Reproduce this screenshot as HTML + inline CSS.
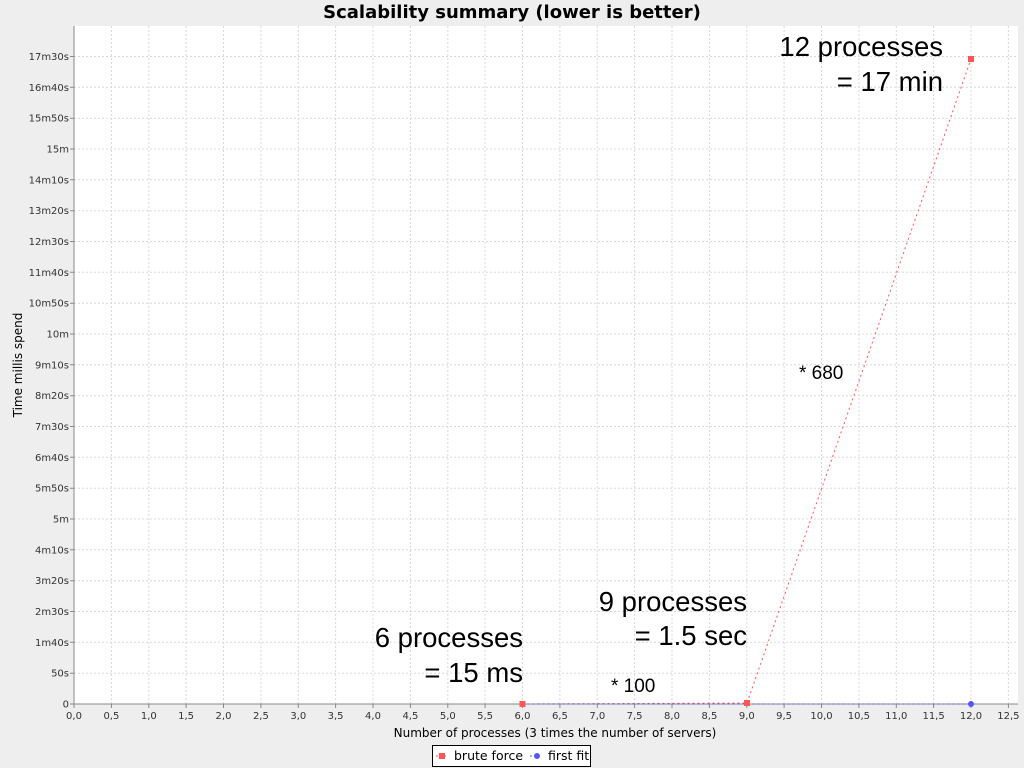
<!DOCTYPE html>
<html><head><meta charset="utf-8"><style>
body{margin:0;background:#eeeeee;}
svg{display:block}
</style></head><body>
<svg width="1024" height="768" xmlns="http://www.w3.org/2000/svg">
<rect width="1024" height="768" fill="#eeeeee"/>
<text x="512" y="18" text-anchor="middle" font-family="DejaVu Sans, sans-serif" font-weight="bold" font-size="18">Scalability summary (lower is better)</text>
<rect x="74" y="26" width="944" height="678" fill="#fff"/>
<g stroke="#d8d8d8" stroke-dasharray="2,2" stroke-width="1" fill="none">
<path d="M74 673.2H1018M74 642.3H1018M74 611.5H1018M74 580.7H1018M74 549.8H1018M74 519H1018M74 488.2H1018M74 457.3H1018M74 426.5H1018M74 395.7H1018M74 364.8H1018M74 334H1018M74 303.2H1018M74 272.3H1018M74 241.5H1018M74 210.7H1018M74 179.8H1018M74 149H1018M74 118.2H1018M74 87.3H1018M74 56.5H1018"/>
<path d="M111.4 26V704M148.8 26V704M186.1 26V704M223.5 26V704M260.9 26V704M298.3 26V704M335.6 26V704M373 26V704M410.4 26V704M447.8 26V704M485.1 26V704M522.5 26V704M559.9 26V704M597.3 26V704M634.6 26V704M672 26V704M709.4 26V704M746.8 26V704M784.1 26V704M821.5 26V704M858.9 26V704M896.3 26V704M933.6 26V704M971 26V704M1008.4 26V704"/>
</g>
<g stroke="#888" fill="none">
<path d="M74 704v4M111.4 704v4M148.8 704v4M186.1 704v4M223.5 704v4M260.9 704v4M298.3 704v4M335.6 704v4M373 704v4M410.4 704v4M447.8 704v4M485.1 704v4M522.5 704v4M559.9 704v4M597.3 704v4M634.6 704v4M672 704v4M709.4 704v4M746.8 704v4M784.1 704v4M821.5 704v4M858.9 704v4M896.3 704v4M933.6 704v4M971 704v4M1008.4 704v4"/>
<path d="M70 704h4M70 673.2h4M70 642.3h4M70 611.5h4M70 580.7h4M70 549.8h4M70 519h4M70 488.2h4M70 457.3h4M70 426.5h4M70 395.7h4M70 364.8h4M70 334h4M70 303.2h4M70 272.3h4M70 241.5h4M70 210.7h4M70 179.8h4M70 149h4M70 118.2h4M70 87.3h4M70 56.5h4"/>
<line x1="74" y1="26" x2="74" y2="704"/>
<line x1="74" y1="704" x2="1018" y2="704"/>
</g>
<g font-family="DejaVu Sans, sans-serif" font-size="10" text-anchor="middle" fill="#333">
<text x="74" y="719">0,0</text><text x="111.4" y="719">0,5</text><text x="148.8" y="719">1,0</text><text x="186.1" y="719">1,5</text><text x="223.5" y="719">2,0</text><text x="260.9" y="719">2,5</text><text x="298.3" y="719">3,0</text><text x="335.6" y="719">3,5</text><text x="373" y="719">4,0</text><text x="410.4" y="719">4,5</text><text x="447.8" y="719">5,0</text><text x="485.1" y="719">5,5</text><text x="522.5" y="719">6,0</text><text x="559.9" y="719">6,5</text><text x="597.3" y="719">7,0</text><text x="634.6" y="719">7,5</text><text x="672" y="719">8,0</text><text x="709.4" y="719">8,5</text><text x="746.8" y="719">9,0</text><text x="784.1" y="719">9,5</text><text x="821.5" y="719">10,0</text><text x="858.9" y="719">10,5</text><text x="896.3" y="719">11,0</text><text x="933.6" y="719">11,5</text><text x="971" y="719">12,0</text><text x="1008.4" y="719">12,5</text>
</g>
<g font-family="DejaVu Sans, sans-serif" font-size="10" text-anchor="end" fill="#333">
<text x="69" y="707.5">0</text><text x="69" y="676.7">50s</text><text x="69" y="645.8">1m40s</text><text x="69" y="615">2m30s</text><text x="69" y="584.2">3m20s</text><text x="69" y="553.3">4m10s</text><text x="69" y="522.5">5m</text><text x="69" y="491.7">5m50s</text><text x="69" y="460.8">6m40s</text><text x="69" y="430">7m30s</text><text x="69" y="399.2">8m20s</text><text x="69" y="368.3">9m10s</text><text x="69" y="337.5">10m</text><text x="69" y="306.7">10m50s</text><text x="69" y="275.8">11m40s</text><text x="69" y="245">12m30s</text><text x="69" y="214.2">13m20s</text><text x="69" y="183.3">14m10s</text><text x="69" y="152.5">15m</text><text x="69" y="121.7">15m50s</text><text x="69" y="90.8">16m40s</text><text x="69" y="60">17m30s</text>
</g>
<text transform="translate(22,365) rotate(-90)" text-anchor="middle" font-family="DejaVu Sans, sans-serif" font-size="12">Time millis spend</text>
<text x="555" y="737" text-anchor="middle" font-family="DejaVu Sans, sans-serif" font-size="12">Number of processes (3 times the number of servers)</text>
<polyline points="522.5,704 747,703 971,59" fill="none" stroke="#ff5555" stroke-dasharray="2,3"/>
<polyline points="522.5,704 747,704 971,704" fill="none" stroke="#5555ff" stroke-dasharray="2,3"/>
<rect x="519.5" y="701" width="6" height="6" fill="#ff5555"/>
<rect x="744" y="700" width="6" height="6" fill="#ff5555"/>
<rect x="968" y="56" width="6" height="6" fill="#ff5555"/>
<circle cx="971" cy="704" r="3" fill="#5555ff"/>
<g font-family="Liberation Sans, sans-serif" font-size="27.5" text-anchor="end">
<text x="943" y="56">12 processes</text><text x="943" y="91">= 17 min</text>
<text x="747" y="611">9 processes</text><text x="747" y="645">= 1.5 sec</text>
<text x="523" y="647">6 processes</text><text x="523" y="682">= 15 ms</text>
</g>
<g font-family="Liberation Sans, sans-serif" font-size="19">
<text x="799" y="379">* 680</text><text x="611" y="692">* 100</text>
</g>
<rect x="432.5" y="745.5" width="158" height="21" fill="#fff" stroke="#000"/>
<line x1="436" y1="756" x2="448" y2="756" stroke="#ff5555" stroke-dasharray="2,2"/>
<rect x="439" y="753" width="6" height="6" fill="#ff5555"/>
<text x="454" y="760" font-family="DejaVu Sans, sans-serif" font-size="12.5">brute force</text>
<line x1="530" y1="756" x2="542" y2="756" stroke="#5555ff" stroke-dasharray="2,2"/>
<circle cx="537" cy="756" r="3" fill="#5555ff"/>
<text x="548" y="760" font-family="DejaVu Sans, sans-serif" font-size="12.5">first fit</text>
</svg>
</body></html>
